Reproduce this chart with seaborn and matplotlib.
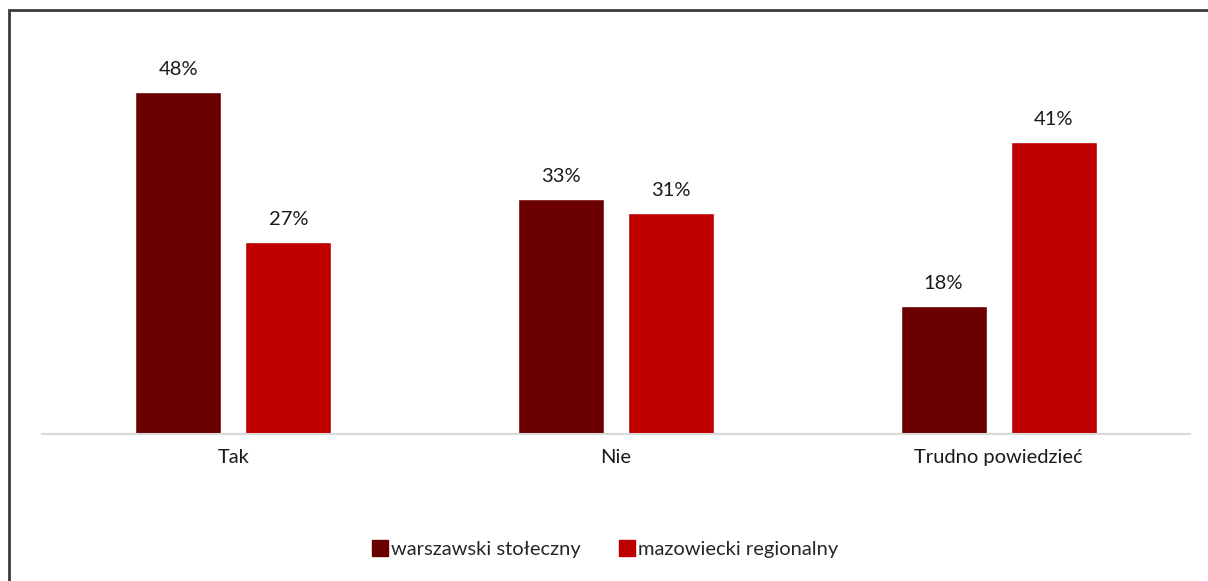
import seaborn as sns
import matplotlib.pyplot as plt
import pandas as pd
from matplotlib.patches import Rectangle
from matplotlib.lines import Line2D

categories = ['Tak', 'Nie', 'Trudno powiedzieć']
series_names = ['warszawski stołeczny', 'mazowiecki regionalny']
warszawski = [48, 33, 18]
mazowiecki = [27, 31, 41]
colors = ['#6B0000', '#C00000']

df = pd.DataFrame({
    'kategoria': categories * 2,
    'seria': [series_names[0]] * 3 + [series_names[1]] * 3,
    'wartosc': warszawski + mazowiecki,
})

sns.set_style('white')
plt.rcParams['font.family'] = ['Lato', 'DejaVu Sans']

fig = plt.figure(figsize=(12.08, 5.81), dpi=100)
ax = fig.add_axes([42 / 1208, 147 / 581, 1148 / 1208, 394 / 581])

sns.barplot(data=df, x='kategoria', y='wartosc', hue='seria',
            palette=colors, width=0.576, gap=0.22, ax=ax,
            legend=False, saturation=1)

for cont in ax.containers:
    ax.bar_label(cont, labels=[f'{v:.0f}%' for v in cont.datavalues],
                 padding=10, fontsize=14.5, color='#1a1a1a')

ax.set_ylim(0, 55.3)
ax.set_xlim(-0.5, 2.5)
ax.set_xlabel('')
ax.set_ylabel('')
ax.set_yticks([])
for side in ['top', 'right', 'left']:
    ax.spines[side].set_visible(False)
ax.spines['bottom'].set_color('#D9D9D9')
ax.spines['bottom'].set_linewidth(1.5)
ax.tick_params(axis='x', length=0, pad=11, labelsize=14.5, colors='#1a1a1a')

handles = [Line2D([0], [0], marker='s', linestyle='', markersize=12,
                  markerfacecolor=c, markeredgecolor=c) for c in colors]
fig.legend(handles, series_names, loc='center', bbox_to_anchor=(0.5, 1 - 549 / 581),
           ncol=2, frameon=False, fontsize=14.5, handletextpad=0.05,
           columnspacing=1.8, handlelength=1.0)

# outer frame of the original chart (only left and top edges visible)
fig.patches.append(Rectangle((9 / 1208, -0.1), 1.2, 1 - 10 / 581 + 0.1,
                             transform=fig.transFigure, fill=False,
                             edgecolor='#3a3a3a', linewidth=2))

fig.savefig('out.png', dpi=100)
plt.close(fig)
